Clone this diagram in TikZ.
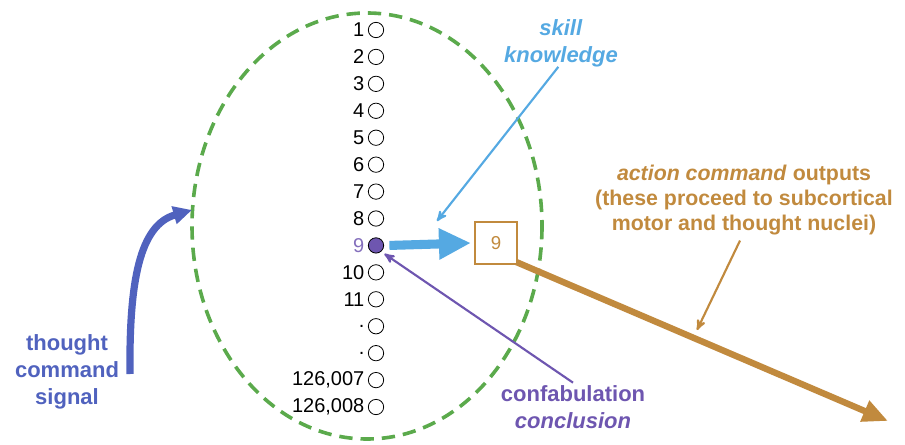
\documentclass[tikz,border=0pt]{standalone}
\usepackage{fontspec}
\setmainfont{Liberation Sans}
\usetikzlibrary{arrows,arrows.meta,positioning,shapes}
\definecolor{ringgreen}{HTML}{5BAA4C}
\definecolor{skillblue}{HTML}{55A9E2}
\definecolor{confpurple}{HTML}{6E56B0}
\definecolor{actbrown}{HTML}{C18A3E}
\definecolor{thoughtblue}{HTML}{5062BE}
\tikzset{
  cell/.style = {circle, draw=black, line width=0.6pt, minimum size=11.5pt,
    inner sep=0pt},
  hotcell/.style = {cell, fill=confpurple},
  numlab/.style = {anchor=east, inner sep=1pt, font=\fontsize{15}{17}\selectfont},
  hotlab/.style = {numlab, text=confpurple!85},
  sidelab/.style = {align=center, inner sep=0pt, font=\bfseries\fontsize{16.5}{20}\selectfont}
}
\begin{document}
\begin{tikzpicture}[x=0.75pt,y=-0.75pt,>=stealth']
    \useasboundingbox (0,0) rectangle (905,445);
    % the group of nodes
    \draw [ringgreen, line width=2.7pt, dash pattern=on 10pt off 6pt] (367,226) ellipse (175 and 213);
    \foreach \lab/\cs/\ls [count=\i] in {1/cell/numlab, 2/cell/numlab, 3/cell/numlab,
        4/cell/numlab, 5/cell/numlab, 6/cell/numlab, 7/cell/numlab, 8/cell/numlab,
        9/hotcell/hotlab, 10/cell/numlab, 11/cell/numlab, ./cell/numlab, ./cell/numlab,
        {126,007}/cell/numlab, {126,008}/cell/numlab}{
      \node [\cs] (c\i) at (376,{30+(\i-1)*26.93}) {};
      \node [\ls, left=1.5pt of c\i] (l\i) {\lab};
    }
    % output box
    \node [draw=actbrown, line width=1.6pt, minimum size=31pt, inner sep=0pt,
      text=actbrown, font=\fontsize{14}{16}\selectfont] (box9) at (496,243) {9};
    % labels
    \node [sidelab, text=skillblue] (skill) at (561,43) {\textit{skill}\\\textit{knowledge}};
    \node [sidelab, text=actbrown, font=\bfseries\fontsize{16}{18.75}\selectfont] (act) at (744,200)
      {\textit{action command} outputs\\(these proceed to subcortical\\motor and thought nuclei)};
    \node [sidelab, text=confpurple] (conf) at (573,407) {confabulation\\\textit{conclusion}};
    \node [sidelab, text=thoughtblue] (thought) at (67,372) {thought\\command\\signal};
    \coordinate (skilltip) at (437,221);
    \coordinate (acttip) at (697,330);
    \coordinate (outtip) at (888,421);
    \coordinate (thoughttip) at (192,210);
    \coordinate (thoughtfoot) at (130,374);
    % connectors
    \draw [skillblue, line width=6.8pt, -{Triangle[length=24pt,width=22pt]}]
      ([xshift=4pt]c9.east) -- ([xshift=-2.5pt]box9.west);
    \draw [actbrown, line width=4.8pt, -{Triangle[length=19pt,width=16pt]}]
      ([xshift=-1pt,yshift=2pt]box9.south east) -- (outtip);
    \draw [->, skillblue, line width=1.6pt] ([xshift=-2pt]skill.south) -- (skilltip);
    \draw [->, actbrown, line width=1.6pt] ([xshift=-3pt,yshift=-4pt]act.south) -- (acttip);
    \draw [->, confpurple, line width=1.6pt] ([yshift=2pt]conf.north) -- ([xshift=2pt,yshift=-2pt]c9.south east);
    \draw [thoughtblue, line width=5.4pt, -{Triangle[length=14pt,width=13pt]}]
      (thoughtfoot) .. controls (129,280) and (140,225) .. (thoughttip);
\end{tikzpicture}
\end{document}
